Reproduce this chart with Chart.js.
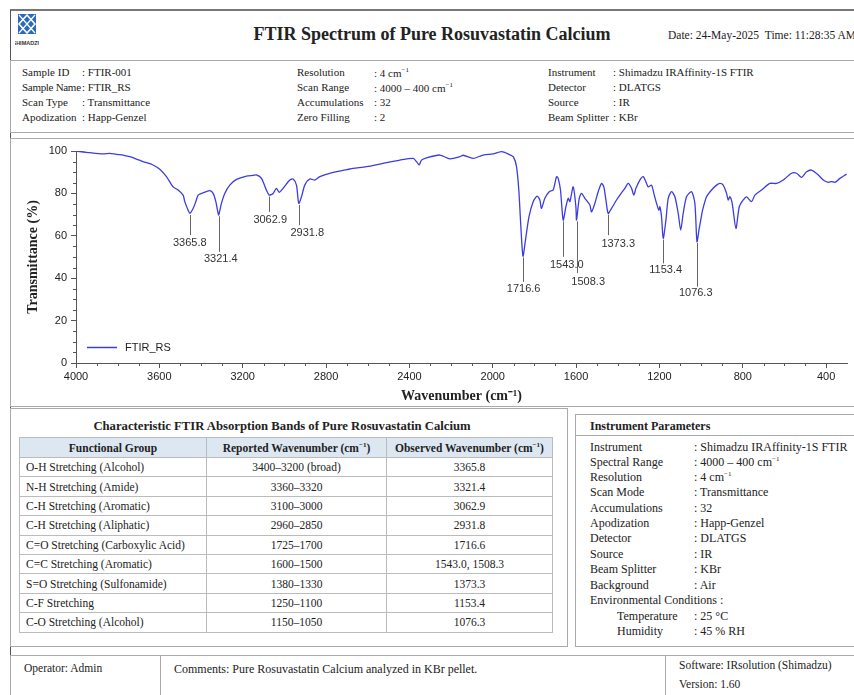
<!DOCTYPE html>
<html>
<head>
<meta charset="utf-8">
<script src="https://cdn.jsdelivr.net/npm/chart.js@4.4.1/dist/chart.umd.min.js"></script>
<style>
  html, body { margin: 0; padding: 0; background: #fff; }
  body { width: 854px; height: 695px; overflow: hidden; position: relative; font-family: "Liberation Serif", "DejaVu Serif", serif; color: #222; }
  .abs { position: absolute; }
  .page { left: 10px; top: 9px; width: 900px; height: 700px; border-left: 1px solid #555; border-top: 2px solid #777; }
  .box { border: 1px solid #aaa; background: #fff; }
  .title { left: 0; top: 24px; width: 864px; text-align: center; font-size: 18px; font-weight: bold; }
  .date { left: 668px; top: 29px; font-size: 11.5px; white-space: nowrap; }
  .params { font-size: 11px; }
  .params div { position: absolute; white-space: nowrap; }
  table { border-collapse: collapse; font-size: 11.5px; }
  td, th { border: 1px solid #bbb; padding: 0 6px; height: 18.4px; white-space: nowrap; }
  th { background: #dde7f2; font-weight: bold; text-align: center; height: 19px; }
  td.c { text-align: center; }
  .inst div { position: absolute; white-space: nowrap; font-size: 12px; }
  .foot { font-size: 11.5px; }
</style>
</head>
<body>
<div class="abs page"></div>

<!-- logo -->
<svg class="abs" style="left:15px;top:14px" width="24" height="34" viewBox="0 0 24 34">
  <rect x="3" y="0" width="18" height="20" fill="#2a6ab8"/>
  <path d="M12 1 L20 10 L12 19 L4 10 Z" fill="none" stroke="#fff" stroke-width="1.6"/>
  <path d="M4 1 L20 19 M20 1 L4 19" stroke="#fff" stroke-width="1.2"/>
  <text x="12" y="31" font-family="Liberation Sans" font-size="5.5" font-weight="bold" text-anchor="middle" fill="#333">SHIMADZU</text>
</svg>

<div class="abs title">FTIR Spectrum of Pure Rosuvastatin Calcium</div>
<div class="abs date">Date: 24-May-2025 &nbsp;Time: 11:28:35 AM</div>

<!-- sample parameters -->
<div class="abs box params" style="left:10px;top:60px;width:900px;height:71px">
  <div style="left:11px;top:5px">Sample ID</div><div style="left:71px;top:5px">: FTIR-001</div>
  <div style="left:11px;top:20px;letter-spacing:-0.3px">Sample Name</div><div style="left:71px;top:20px">: FTIR_RS</div>
  <div style="left:11px;top:35px">Scan Type</div><div style="left:71px;top:35px">: Transmittance</div>
  <div style="left:11px;top:50px">Apodization</div><div style="left:71px;top:50px">: Happ-Genzel</div>

  <div style="left:286px;top:5px">Resolution</div><div style="left:363px;top:5px">: 4 cm<sup style="font-size:7px">−1</sup></div>
  <div style="left:286px;top:20px">Scan Range</div><div style="left:363px;top:20px">: 4000 – 400 cm<sup style="font-size:7px">−1</sup></div>
  <div style="left:286px;top:35px">Accumulations</div><div style="left:363px;top:35px">: 32</div>
  <div style="left:286px;top:50px">Zero Filling</div><div style="left:363px;top:50px">: 2</div>

  <div style="left:537px;top:5px">Instrument</div><div style="left:602px;top:5px">: Shimadzu IRAffinity-1S FTIR</div>
  <div style="left:537px;top:20px">Detector</div><div style="left:602px;top:20px">: DLATGS</div>
  <div style="left:537px;top:35px">Source</div><div style="left:602px;top:35px">: IR</div>
  <div style="left:537px;top:50px">Beam Splitter</div><div style="left:602px;top:50px">: KBr</div>
</div>

<!-- chart -->
<div class="abs box" style="left:10px;top:138px;width:900px;height:267px"></div>
<div class="abs" style="left:10px;top:139px;width:844px;height:266px">
  <canvas id="chart"></canvas>
</div>

<!-- band table -->
<div class="abs box" style="left:10px;top:408px;width:556px;height:237px">
  <div class="abs" style="left:0;top:10px;width:542px;text-align:center;font-size:12.7px;font-weight:bold">Characteristic FTIR Absorption Bands of Pure Rosuvastatin Calcium</div>
  <table class="abs" style="left:8px;top:28px;width:534px">
    <tr><th style="width:174px">Functional Group</th><th style="width:167px">Reported Wavenumber (cm<sup style="font-size:7px">−1</sup>)</th><th>Observed Wavenumber (cm<sup style="font-size:7px">−1</sup>)</th></tr>
    <tr><td>O-H Stretching (Alcohol)</td><td class="c">3400–3200 (broad)</td><td class="c">3365.8</td></tr>
    <tr><td>N-H Stretching (Amide)</td><td class="c">3360–3320</td><td class="c">3321.4</td></tr>
    <tr><td>C-H Stretching (Aromatic)</td><td class="c">3100–3000</td><td class="c">3062.9</td></tr>
    <tr><td>C-H Stretching (Aliphatic)</td><td class="c">2960–2850</td><td class="c">2931.8</td></tr>
    <tr><td>C=O Stretching (Carboxylic Acid)</td><td class="c">1725–1700</td><td class="c">1716.6</td></tr>
    <tr><td>C=C Stretching (Aromatic)</td><td class="c">1600–1500</td><td class="c">1543.0, 1508.3</td></tr>
    <tr><td>S=O Stretching (Sulfonamide)</td><td class="c">1380–1330</td><td class="c">1373.3</td></tr>
    <tr><td>C-F Stretching</td><td class="c">1250–1100</td><td class="c">1153.4</td></tr>
    <tr><td>C-O Stretching (Alcohol)</td><td class="c">1150–1050</td><td class="c">1076.3</td></tr>
  </table>
</div>

<!-- instrument parameters -->
<div class="abs box inst" style="left:575px;top:414px;width:300px;height:231px">
  <div style="left:14px;top:4px;font-weight:bold">Instrument Parameters</div>
  <div style="left:0;top:20px;width:300px;height:0;border-top:1px solid #aaa"></div>
  <div style="left:14px;top:25px">Instrument</div><div style="left:118px;top:25px">: Shimadzu IRAffinity-1S FTIR</div>
  <div style="left:14px;top:40px">Spectral Range</div><div style="left:118px;top:40px">: 4000 – 400 cm<sup style="font-size:7px">−1</sup></div>
  <div style="left:14px;top:55px">Resolution</div><div style="left:118px;top:55px">: 4 cm<sup style="font-size:7px">−1</sup></div>
  <div style="left:14px;top:70px">Scan Mode</div><div style="left:118px;top:70px">: Transmittance</div>
  <div style="left:14px;top:86px">Accumulations</div><div style="left:118px;top:86px">: 32</div>
  <div style="left:14px;top:101px">Apodization</div><div style="left:118px;top:101px">: Happ-Genzel</div>
  <div style="left:14px;top:116px">Detector</div><div style="left:118px;top:116px">: DLATGS</div>
  <div style="left:14px;top:132px">Source</div><div style="left:118px;top:132px">: IR</div>
  <div style="left:14px;top:147px">Beam Splitter</div><div style="left:118px;top:147px">: KBr</div>
  <div style="left:14px;top:163px">Background</div><div style="left:118px;top:163px">: Air</div>
  <div style="left:14px;top:178px">Environmental Conditions :</div>
  <div style="left:41px;top:194px">Temperature</div><div style="left:118px;top:194px">: 25 °C</div>
  <div style="left:41px;top:209px">Humidity</div><div style="left:118px;top:209px">: 45 % RH</div>
</div>

<!-- footer -->
<div class="abs box foot" style="left:10px;top:655px;width:900px;height:50px">
  <div class="abs" style="left:13px;top:6px">Operator: Admin</div>
  <div class="abs" style="left:149px;top:0;width:0;height:50px;border-left:1px solid #aaa"></div>
  <div class="abs" style="left:163px;top:6px;font-size:12px">Comments: Pure Rosuvastatin Calcium analyzed in KBr pellet.</div>
  <div class="abs" style="left:654px;top:0;width:0;height:50px;border-left:1px solid #aaa"></div>
  <div class="abs" style="left:668px;top:3px">Software: IRsolution (Shimadzu)</div>
  <div class="abs" style="left:668px;top:22px">Version: 1.60</div>
</div>

<script>
// spectrum (wavenumber in cm-1, transmittance in %)
const wavenumbers = [4000, 3934, 3870, 3838, 3806, 3774, 3742, 3710, 3678, 3630, 3598, 3566, 3534, 3510, 3486, 3478, 3462, 3454, 3438, 3425,
    3414, 3390, 3358, 3342, 3329, 3318, 3315, 3302, 3286, 3262, 3230, 3182, 3150, 3134, 3110, 3086, 3073, 3054, 3038, 3025,
    3006, 2974, 2958, 2942, 2931, 2918, 2902, 2878, 2854, 2830, 2766, 2700, 2670, 2606, 2526, 2446, 2382, 2366, 2353, 2342,
    2318, 2254, 2206, 2158, 2142, 2094, 2046, 1998, 1958, 1926, 1902, 1886, 1875, 1866, 1855, 1843, 1826, 1806, 1787, 1774,
    1766, 1750, 1729, 1710, 1694, 1686, 1675, 1662, 1649, 1638, 1630, 1614, 1601, 1598, 1585, 1574, 1558, 1534, 1526, 1510,
    1494, 1478, 1467, 1457, 1446, 1430, 1406, 1390, 1366, 1350, 1334, 1323, 1313, 1294, 1278, 1262, 1254, 1238, 1227, 1214,
    1203, 1198, 1190, 1182, 1169, 1158, 1142, 1126, 1110, 1098, 1086, 1070, 1046, 1030, 1020, 1010, 1000, 993, 974, 950,
    926, 910, 894, 878, 870, 862, 851, 833, 817, 798, 782, 758, 742, 710, 670, 638, 606, 566, 542, 518,
    494, 470, 438, 414, 390, 374, 358, 334, 302];
const transmittance = [100, 99.2, 98.6, 98.9, 98.4, 98.1, 97.3, 96.2, 95.0, 93.4, 91.4, 87.9, 83.1, 81.6, 79.2, 76.1, 72.1, 70.6, 72.9, 76.1,
    79.2, 80.3, 81.3, 80.0, 76.1, 70.6, 69.8, 75.3, 80.0, 83.9, 86.6, 88.2, 88.5, 88.7, 87.1, 81.5, 79.2, 80.0, 82.4, 80.5,
    82.4, 86.3, 86.8, 83.9, 75.3, 78.4, 83.9, 86.8, 86.3, 87.9, 89.9, 91.2, 91.8, 92.6, 94.2, 95.7, 96.5, 95.0, 93.4, 95.7,
    96.8, 98.1, 96.3, 97.3, 98.0, 96.5, 98.1, 98.6, 99.7, 98.6, 97.3, 92.6, 81.6, 65.8, 50.4, 58.0, 69.0, 76.1, 78.7, 76.9,
    72.9, 77.7, 80.8, 81.6, 87.9, 87.1, 81.6, 67.4, 73.7, 77.7, 76.1, 83.1, 73.7, 67.4, 77.7, 80.0, 77.7, 74.5, 71.3, 75.3,
    80.8, 84.7, 83.1, 76.9, 70.6, 72.9, 76.9, 79.2, 82.4, 84.7, 82.4, 79.2, 82.4, 86.3, 87.9, 84.7, 83.1, 83.9, 80.0, 75.3,
    72.1, 73.7, 69.0, 58.8, 67.4, 77.7, 80.8, 78.4, 70.6, 62.7, 70.6, 78.4, 80.8, 75.3, 57.2, 63.0, 68.5, 72.1, 78.4, 81.6,
    83.9, 84.7, 83.9, 80.0, 76.9, 78.4, 75.3, 63.5, 73.7, 76.9, 78.4, 76.1, 79.2, 81.6, 84.7, 84.7, 86.3, 89.5, 89.5, 87.6,
    90.2, 91.0, 88.7, 86.3, 85.2, 85.6, 85.2, 87.1, 89.1];

const xTicks = [4000, 3600, 3200, 2800, 2400, 2000, 1600, 1200, 800, 400];
const yTicks = [0, 20, 40, 60, 80, 100];

// peak markers: where the marker sits on the axis, its label, and where line / label end (in %)
const peakPositions = [3454, 3315, 3073, 2931, 1855, 1662, 1598, 1446, 1182, 1020];
const peakLabels = ['3365.8', '3321.4', '3062.9', '2931.8', '1716.6', '1543.0', '1508.3', '1373.3', '1153.4', '1076.3'];
const peakLineTop = [69.8, 69.2, 78.5, 74.6, 49.8, 66.8, 66.8, 70.0, 58.2, 56.6];
const peakLineBottom = [60.3, 52.4, 71.3, 65.0, 38.3, 50.1, 42.4, 60.3, 47.0, 36.0];
const peakLabelAt = [3454, 3305, 3068, 2890, 1852, 1645, 1542, 1398, 1170, 1026];
const peakLabelLevel = [56.5, 49.0, 67.7, 61.3, 35.1, 46.2, 38.3, 56.0, 43.8, 32.8];

const tickFont = { family: 'Liberation Sans', size: 11 };
const axisColor = '#555';

// peak lines + labels
const peakMarkers = {
    id: 'peakMarkers',
    afterDatasetsDraw(chart) {
        const { ctx, scales: { x, y } } = chart;
        ctx.save();
        ctx.strokeStyle = '#666';
        ctx.lineWidth = 1;
        ctx.fillStyle = '#333';
        ctx.font = '11px "Liberation Sans"';
        ctx.textAlign = 'center';
        ctx.textBaseline = 'middle';
        peakPositions.forEach((p, i) => {
            const px = Math.round(x.getPixelForValue(p)) + 0.5;
            ctx.beginPath();
            ctx.moveTo(px, y.getPixelForValue(peakLineTop[i]));
            ctx.lineTo(px, y.getPixelForValue(peakLineBottom[i]));
            ctx.stroke();
            ctx.fillText(peakLabels[i], x.getPixelForValue(peakLabelAt[i]), y.getPixelForValue(peakLabelLevel[i]));
        });
        ctx.restore();
    }
};

// small ticks between the labelled ones, and the legend in the bottom left corner
const extras = {
    id: 'extras',
    afterDraw(chart) {
        const { ctx, chartArea, scales: { x, y } } = chart;
        ctx.save();
        ctx.strokeStyle = axisColor;
        ctx.lineWidth = 1;
        ctx.beginPath();
        for (let v = 400; v <= 4000; v += 100) {
            if (v % 400 === 0) continue;
            const px = Math.round(x.getPixelForValue(v)) + 0.5;
            ctx.moveTo(px, chartArea.bottom);
            ctx.lineTo(px, chartArea.bottom + 3);
        }
        for (let v = 5; v < 100; v += 5) {
            if (v % 20 === 0) continue;
            const py = Math.round(y.getPixelForValue(v)) + 0.5;
            ctx.moveTo(chartArea.left, py);
            ctx.lineTo(chartArea.left - 3, py);
        }
        ctx.stroke();

        const ds = chart.data.datasets[0];
        const ly = chartArea.bottom - 15.5;
        ctx.strokeStyle = ds.borderColor;
        ctx.lineWidth = 1.5;
        ctx.beginPath();
        ctx.moveTo(chartArea.left + 11, ly);
        ctx.lineTo(chartArea.left + 41, ly);
        ctx.stroke();
        ctx.fillStyle = '#222';
        ctx.font = '11px "Liberation Sans"';
        ctx.textBaseline = 'middle';
        ctx.fillText(ds.label, chartArea.left + 49, ly);
        ctx.restore();
    }
};

const chart = document.querySelector('#chart').getContext('2d');

new Chart(chart, {
    type: 'line',
    data: {
        datasets: [
            {
                label: 'FTIR_RS',
                data: wavenumbers.map((w, i) => ({ x: w, y: transmittance[i] })),
                borderColor: '#3c3ce0',
                borderWidth: 1.3,
                pointRadius: 0,
                tension: 0.25,
                fill: false
            }
        ]
    },
    options: {
        responsive: true,
        maintainAspectRatio: false,
        animation: false,
        layout: { padding: { top: 12, right: 7, left: 0, bottom: 0 } },
        plugins: {
            legend: { display: false },
            tooltip: { enabled: false }
        },
        scales: {
            x: {
                type: 'linear',
                reverse: true,
                min: 300,
                max: 4000,
                afterBuildTicks: s => { s.ticks = xTicks.map(v => ({ value: v })); },
                afterFit: s => { s.height = 42; },
                grid: { drawOnChartArea: false, color: axisColor, tickLength: 5 },
                border: { color: axisColor },
                ticks: { font: tickFont, color: '#222', padding: 2, maxRotation: 0, callback: v => String(v) },
                title: {
                    display: true,
                    text: 'Wavenumber (cm⁻¹)',
                    font: { family: 'Liberation Serif', size: 14, weight: 'bold' },
                    color: '#222',
                    padding: { top: 0, bottom: 0 }
                }
            },
            y: {
                min: 0,
                max: 100,
                afterBuildTicks: s => { s.ticks = yTicks.map(v => ({ value: v })); },
                afterFit: s => { s.width = 66; },
                grid: { drawOnChartArea: false, color: axisColor, tickLength: 5 },
                border: { color: axisColor },
                ticks: { font: tickFont, color: '#222', padding: 4, callback: v => String(v) },
                title: {
                    display: true,
                    text: 'Transmittance (%)',
                    font: { family: 'Liberation Serif', size: 14, weight: 'bold' },
                    color: '#222',
                    padding: { top: 15, bottom: 0 }
                }
            }
        }
    },
    plugins: [peakMarkers, extras]
});
</script>
</body>
</html>
